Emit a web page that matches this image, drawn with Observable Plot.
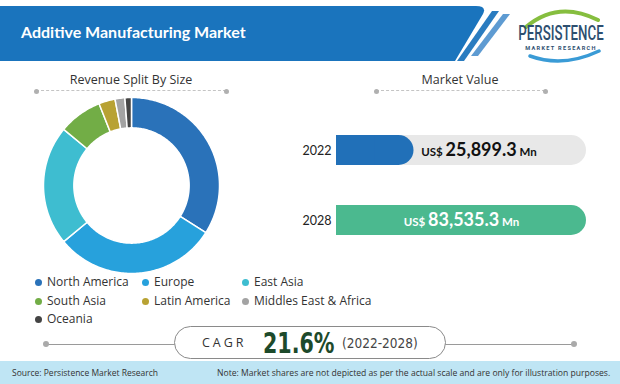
<!DOCTYPE html>
<html>
<head>
<meta charset="utf-8">
<script src="https://cdn.jsdelivr.net/npm/d3@7"></script>
<script src="https://cdn.jsdelivr.net/npm/@observablehq/plot@0.6"></script>
<style>
  html, body { margin: 0; padding: 0; background: #fff; }
  #root { position: relative; width: 620px; height: 384px; overflow: hidden; background: #fff; font-family: Lato, "Open Sans", sans-serif; color: #333; }
  .abs { position: absolute; }
  .heading { font-family: "Open Sans", Lato, sans-serif; font-size: 12.5px; color: #333; text-align: center; white-space: nowrap; }
  .dash { position: absolute; height: 0; border-top: 1.5px dashed #c4c4c4; }
  .dot { position: absolute; width: 5px; height: 5px; border-radius: 50%; background: #b0b0b0; }
  .legend-item { position: absolute; font-family: "Open Sans", sans-serif; font-size: 12px; color: #333; white-space: nowrap; line-height: 14px; }
  .legend-item span.sw { position: absolute; left: -12px; top: 3.5px; width: 7px; height: 7px; border-radius: 50%; }
</style>
</head>
<body>
<div id="root"></div>
<script>
// ---------- data ----------
const regions = ["North America", "Europe", "East Asia", "South Asia", "Latin America", "Middles East & Africa", "Oceania"];
const shares = [34, 30, 22, 8, 3, 1.8, 1.2];
const regionColors = ["#2a72b9", "#27a1dc", "#3ebdd0", "#72ad46", "#b8a233", "#a3a3a3", "#444444"];

const years = ["2022", "2028"];
const marketValues = [25899.3, 83535.3];
const valueLabels = ["US$ 25,899.3 Mn", "US$ 83,535.3 Mn"];
const barColors = ["#2170b8", "#4bb98f"];

const cagrValue = "21.6%";
const cagrPeriod = "(2022-2028)";

const root = document.getElementById("root");

// ---------- header ----------
const header = `
<svg class="abs" style="left:0;top:0" width="620" height="64" xmlns="http://www.w3.org/2000/svg">
  <path d="M0,6 H476 Q487,6 483,14 L455,61 H0 Z" fill="#1a74bd"/>
  <path d="M457,61 L492,11 L499,11 L464,61 Z" fill="#2a7cc0"/>
  <path d="M471,56 L503,14 L510,14 L478,56 Z" fill="#5e9bd2"/>
  <path d="M526,27 Q558,0 598,20" fill="none" stroke="#86be3f" stroke-width="4" stroke-linecap="round"/>
  <path d="M530,56 Q563,68 599,51" fill="none" stroke="#3a9bd6" stroke-width="3.5" stroke-linecap="round"/>
  <text x="21" y="38" fill="#fff" font-family="Lato, 'Open Sans', sans-serif" font-weight="700" font-size="16">Additive Manufacturing Market</text>
  <g transform="translate(561,40) scale(0.7,1.05)">
    <text x="0" y="0" text-anchor="middle" fill="#2d4f70" font-family="Roboto, sans-serif" font-weight="500" font-size="19">PERSISTENCE</text>
  </g>
  <text x="561" y="50" text-anchor="middle" fill="#2d4f70" font-family="Roboto, sans-serif" font-weight="700" font-size="5.6" letter-spacing="1.3">MARKET RESEARCH</text>
</svg>`;
root.insertAdjacentHTML("beforeend", header);

// ---------- section headings ----------
function heading(text, cx, cy, x0, x1) {
  const h = document.createElement("div");
  h.className = "abs heading";
  h.style.left = (cx - 100) + "px"; h.style.width = "200px"; h.style.top = (cy - 9) + "px";
  h.textContent = text;
  root.appendChild(h);
  const d = document.createElement("div");
  d.className = "dash";
  d.style.left = x0 + "px"; d.style.width = (x1 - x0) + "px"; d.style.top = "90px";
  root.appendChild(d);
  for (const x of [x0, x1]) {
    const p = document.createElement("div");
    p.className = "dot"; p.style.left = (x - 2.5) + "px"; p.style.top = "88.5px";
    root.appendChild(p);
  }
}
heading("Revenue Split By Size", 131, 80, 36, 226);
heading("Market Value", 460, 80, 376, 545);

// ---------- donut ----------
const total = d3.sum(shares);
const rOuter = 1, rInner = 0.655;
const donutPts = [];
let acc = 0;
regions.forEach((name, i) => {
  const a0 = acc / total * 2 * Math.PI;
  acc += shares[i];
  const a1 = acc / total * 2 * Math.PI;
  const n = Math.max(2, Math.ceil((a1 - a0) * 180 / Math.PI) + 1);
  for (let k = 0; k < n; k++) {
    const a = a0 + (a1 - a0) * k / (n - 1);
    donutPts.push({region: name, x: rOuter * Math.sin(a), y: rOuter * Math.cos(a)});
  }
  for (let k = n - 1; k >= 0; k--) {
    const a = a0 + (a1 - a0) * k / (n - 1);
    donutPts.push({region: name, x: rInner * Math.sin(a), y: rInner * Math.cos(a)});
  }
});
const donut = Plot.plot({
  width: 180, height: 180,
  margin: 0,
  x: {domain: [-1.0227, 1.0227], axis: null},
  y: {domain: [-1.0227, 1.0227], axis: null},
  color: {domain: regions, range: regionColors},
  marks: [
    Plot.line(donutPts, {x: "x", y: "y", z: "region", fill: "region", stroke: "white", strokeWidth: 1.5, curve: "linear-closed"})
  ]
});
donut.style.position = "absolute";
donut.style.left = (131 - 90) + "px";
donut.style.top = (185 - 90) + "px";
root.appendChild(donut);

// ---------- legend ----------
const legendCols = [47, 154, 254];
const legendRows = [275, 294, 312];
regions.forEach((name, i) => {
  const el = document.createElement("div");
  el.className = "legend-item";
  el.style.left = legendCols[i % 3] + "px";
  el.style.top = legendRows[Math.floor(i / 3)] + "px";
  el.innerHTML = `<span class="sw" style="background:${regionColors[i]}"></span>`;
  el.appendChild(document.createTextNode(name));
  root.appendChild(el);
});

// ---------- bars ----------
const barData = years.map((y, i) => ({year: y, value: marketValues[i], label: valueLabels[i], color: barColors[i]}));
const maxV = d3.max(marketValues);
const bars = Plot.plot({
  width: 310, height: 170,
  marginLeft: 46, marginRight: 14, marginTop: 15, marginBottom: 15,
  x: {domain: [0, maxV], axis: null},
  y: {domain: years, padding: 0, label: null, tickSize: 0, tickPadding: 5},
  style: {fontFamily: "Lato, 'Open Sans', sans-serif", fontSize: "12.5px", color: "#222"},
  marks: [
    Plot.barX(barData.filter(d => d.value < maxV), {x1: 0, x2: maxV, y: "year", fill: "#e8e8e8", rx: 15, insetTop: 20, insetBottom: 20}),
    Plot.barX(barData, {x1: 0, x2: "value", y: "year", fill: "color", rx: 15, insetTop: 20, insetBottom: 20}),
    Plot.barX(barData, {x1: 0, x2: d => d.value / 2, y: "year", fill: "color", insetTop: 20, insetBottom: 20}),
    Plot.text(barData, {x: d => d.value < maxV ? maxV * 0.57 : maxV * 0.5, y: "year", text: "label",
      fill: d => d.value < maxV ? "#111" : "#fff", fontSize: 17, fontWeight: 700})
  ]
});
d3.select(bars).selectAll("text").filter(function () { return this.textContent.startsWith("US$"); }).each(function () {
  const s = this.textContent;
  const num = s.replace("US$ ", "").replace(" Mn", "");
  const t = d3.select(this);
  t.text(null);
  t.append("tspan").attr("font-size", 11.5).attr("font-weight", 700).text("US$ ");
  t.append("tspan").attr("font-size", 18).attr("font-weight", 700).text(num);
  t.append("tspan").attr("font-size", 11.5).attr("font-weight", 700).text(" Mn");
});
bars.style.position = "absolute";
bars.style.left = "290px";
bars.style.top = "100px";
root.appendChild(bars);

// ---------- CAGR ----------
const cagr = `
<div class="abs" style="left:46px;top:343.5px;width:528px;height:0;border-top:1px solid #9a9a9a"></div>
<div class="dot" style="left:43px;top:341px;width:6px;height:6px;background:#aaa"></div>
<div class="dot" style="left:571px;top:341px;width:6px;height:6px;background:#aaa"></div>
<div class="abs" style="left:174px;top:326px;width:270px;height:31px;border:1px solid #8a8a8a;border-radius:17px;background:#fff"></div>
<div class="abs" style="left:202px;top:326px;height:33px;display:flex;align-items:center;white-space:nowrap">
  <span style="font-family:'Open Sans',sans-serif;font-size:12.5px;letter-spacing:3px;color:#333;width:61px">CAGR</span>
  <span style="display:inline-block;width:79px"><span style="display:inline-block;transform:scaleX(0.79);transform-origin:0 50%;font-family:'DejaVu Sans Condensed',sans-serif;font-weight:700;font-size:29px;color:#1d4a2b">${cagrValue}</span></span>
  <span style="font-family:'DejaVu Sans Condensed',sans-serif;font-size:13.5px;color:#444">${cagrPeriod}</span>
</div>`;
root.insertAdjacentHTML("beforeend", cagr);

// ---------- footer ----------
const footer = `
<div class="abs" style="left:0;top:361px;width:620px;height:23px;background:#bfe5f4"></div>
<div class="abs" style="left:12px;top:367px;font-family:'Open Sans',sans-serif;font-size:8.5px;color:#333;white-space:nowrap">Source: Persistence Market Research</div>
<div class="abs" style="left:217px;top:367px;font-family:'Open Sans',sans-serif;font-size:8.6px;color:#333;white-space:nowrap">Note: Market shares are not depicted as per the actual scale and are only for illustration purposes.</div>`;
root.insertAdjacentHTML("beforeend", footer);
</script>
</body>
</html>
